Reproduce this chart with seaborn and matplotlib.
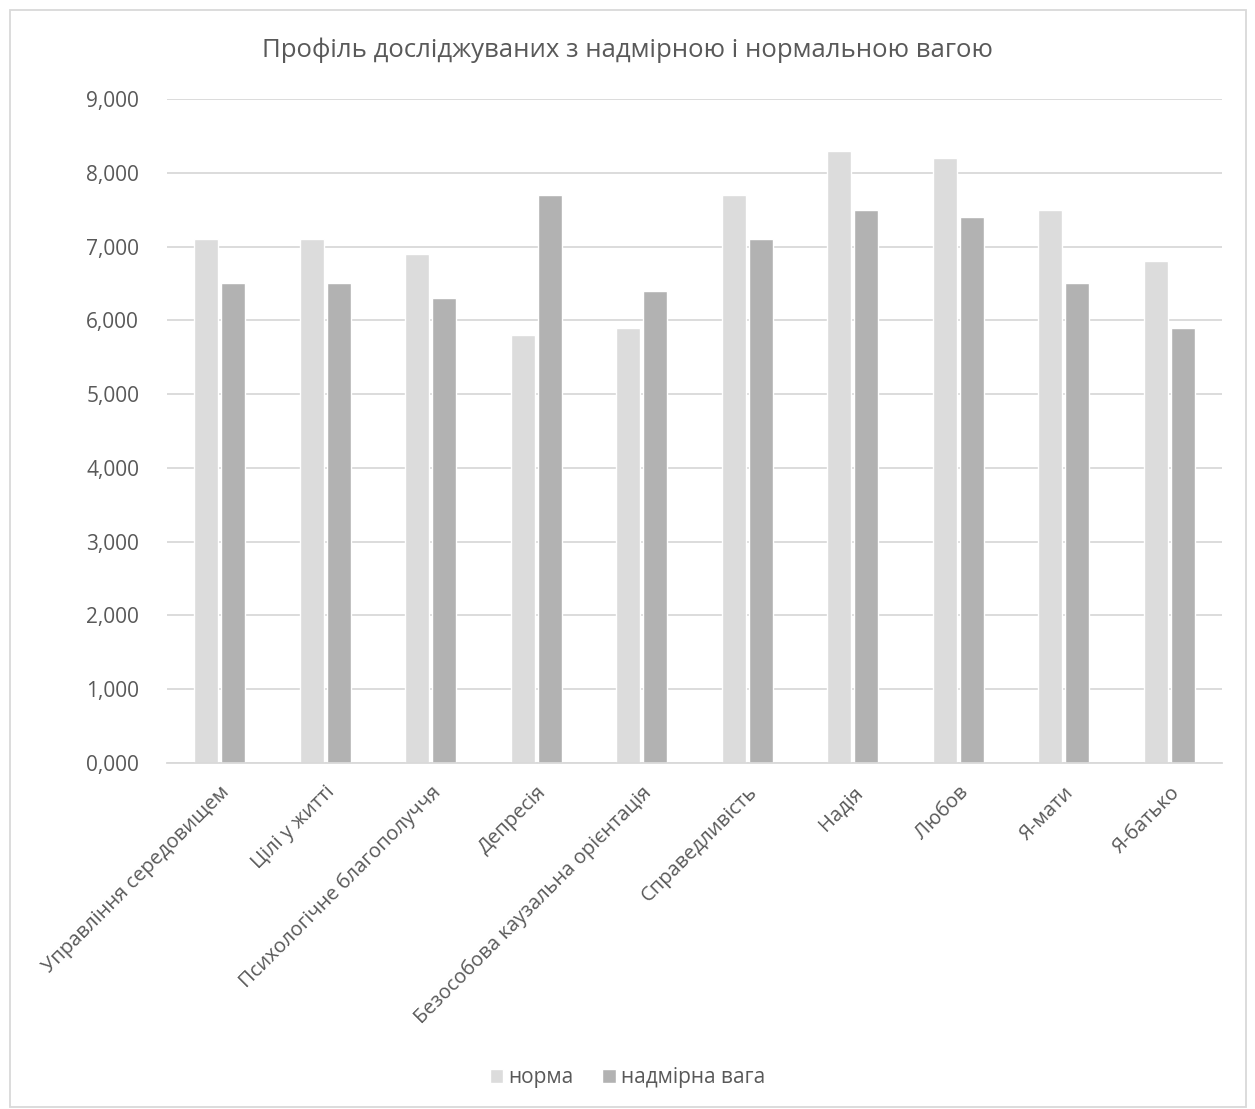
import matplotlib
matplotlib.use("Agg")
import matplotlib.pyplot as plt
import seaborn as sns
import pandas as pd
from matplotlib.ticker import FuncFormatter, MultipleLocator
from matplotlib.patches import Rectangle

categories = ["Управління середовищем", "Цілі у житті", "Психологічне благополуччя",
              "Депресія", "Безособова каузальна орієнтація", "Справедливість",
              "Надія", "Любов", "Я-мати", "Я-батько"]
norma = [7.1, 7.1, 6.9, 5.8, 5.9, 7.7, 8.3, 8.2, 7.5, 6.8]
overweight = [6.5, 6.5, 6.3, 7.7, 6.4, 7.1, 7.5, 7.4, 6.5, 5.9]
series_names = ["норма", "надмірна вага"]
colors = ["#dcdcdc", "#b2b2b2"]

df = pd.DataFrame({
    "cat": categories * 2,
    "val": norma + overweight,
    "grp": [series_names[0]] * len(categories) + [series_names[1]] * len(categories),
})

sns.set_theme(style="white")
plt.rcParams["font.family"] = ["Open Sans", "DejaVu Sans"]
txt = "#595959"

fig = plt.figure(figsize=(12.55, 11.09), dpi=100)
ax = fig.add_axes([167/1255, 1 - 763/1109, 1055/1255, 664/1109])

sns.barplot(data=df, x="cat", y="val", hue="grp", palette=colors, ax=ax,
            width=0.51, gap=0.11, legend=True)

ax.set_ylim(0, 9)
ax.set_xlim(-0.5, len(categories) - 0.5)
ax.yaxis.set_major_locator(MultipleLocator(1))
ax.yaxis.set_major_formatter(FuncFormatter(lambda v, p: f"{v:.3f}".replace(".", ",")))
ax.grid(axis="y", color="#d9d9d9", linewidth=1.3)
ax.set_axisbelow(True)
for s in ["top", "right", "left"]:
    ax.spines[s].set_visible(False)
ax.spines["bottom"].set_color("#d9d9d9")
ax.spines["bottom"].set_linewidth(1.3)
ax.set_xlabel("")
ax.set_ylabel("")
ax.tick_params(axis="y", length=0, pad=20, labelsize=15, labelcolor=txt)
ax.tick_params(axis="x", length=0, pad=14, labelsize=14.5, labelcolor=txt)
plt.setp(ax.get_xticklabels(), rotation=45, ha="right", rotation_mode="anchor")

fig.suptitle("Профіль досліджуваних з надмірною і нормальною вагою",
             x=0.5, y=1 - 50/1109, va="center", fontsize=18.5, color=txt)

leg = ax.get_legend()
handles = leg.legend_handles
leg.remove()
fig.legend(handles, series_names, loc="center", bbox_to_anchor=(0.5, 1 - 1078/1109),
           ncol=2, frameon=False, fontsize=15, labelcolor=txt,
           handlelength=0.67, handleheight=0.67, handletextpad=0.25, columnspacing=1.35)

fig.patches.append(Rectangle((10/1255, 0.002), 1236/1255, 1 - 10/1109 - 0.002,
                             transform=fig.transFigure, fill=False,
                             edgecolor="#d9d9d9", linewidth=1.3))

fig.savefig("out.png", dpi=100, facecolor="white")
